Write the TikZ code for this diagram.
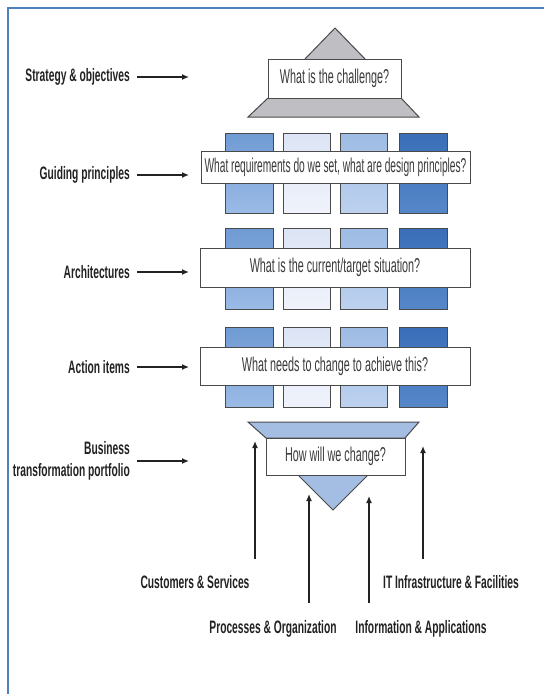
\documentclass[tikz,border=0pt]{standalone}
\usepackage{fontspec}
\newfontfamily\condfont[FakeStretch=0.57]{Liberation Sans}
\newfontfamily\boxfont[FakeStretch=0.54]{Liberation Sans}
\newfontfamily\boxfontnarrow[FakeStretch=0.51]{Liberation Sans}
\usetikzlibrary{arrows.meta}
\definecolor{frameblue}{HTML}{4F81BD}
\definecolor{edgegray}{HTML}{4A4A4A}
\definecolor{capgray}{HTML}{BEBEC3}
\definecolor{funnelblue}{HTML}{A3BDE3}
\definecolor{txtdark}{HTML}{222222}
\definecolor{txtbox}{HTML}{3A3A3A}
\definecolor{aT}{HTML}{6F9AD3}\definecolor{aB}{HTML}{9BBBE6}
\definecolor{bT}{HTML}{DCE4F5}\definecolor{bB}{HTML}{F0F3FB}
\definecolor{cT}{HTML}{9DBBE4}\definecolor{cB}{HTML}{BED2EF}
\definecolor{dT}{HTML}{3A6EB8}\definecolor{dB}{HTML}{5587C9}
\tikzset{
  lbl/.style={font=\condfont\bfseries\fontsize{18}{22}\selectfont, text=txtdark, inner sep=0pt, align=right},
  blbl/.style={font=\condfont\bfseries\fontsize{18}{22}\selectfont, text=txtdark, inner sep=0pt},
  qbox/.style={draw=edgegray, line width=1pt, fill=white, font=\boxfont\fontsize{20}{22}\selectfont, text=txtbox, inner sep=0pt},
  shape edge/.style={draw=edgegray, line width=1pt},
  colA/.style={shape edge, top color=aT, bottom color=aB},
  colB/.style={shape edge, top color=bT, bottom color=bB},
  colC/.style={shape edge, top color=cT, bottom color=cB},
  colD/.style={shape edge, top color=dT, bottom color=dB},
  arr/.style={draw=txtdark, line width=1.3pt, -{Latex[length=7pt,width=6pt]}},
}
\begin{document}
\begin{tikzpicture}[x=1pt,y=-1pt]
\useasboundingbox (0,0) rectangle (544,694);
\fill[white] (0,0) rectangle (544,694);
% frame
\draw[frameblue, line width=2pt] (8,694) -- (8,8) -- (544,8);

% top cap
\filldraw[shape edge, fill=capgray] (335,28) -- (304,60) -- (366,60) -- cycle;
\filldraw[shape edge, fill=capgray] (268,98) -- (401,98) -- (419,117) -- (248,117) -- cycle;
\node[qbox, minimum width=133pt, minimum height=39pt] (challenge) at (334.5,78.5) {What is the challenge?};

% blocks
\foreach \yt/\yb in {133/213, 228/309, 327/407}{
  \draw[colA] (225,\yt) rectangle (273,\yb);
  \draw[colB] (283,\yt) rectangle (330,\yb);
  \draw[colC] (340,\yt) rectangle (387,\yb);
  \draw[colD] (399,\yt) rectangle (447,\yb);
}
\node[qbox, minimum width=269pt, minimum height=32pt, font=\boxfontnarrow\fontsize{20}{22}\selectfont] (guiding) at (335.5,167) {What requirements do we set, what are design principles?};
\node[qbox, minimum width=270pt, minimum height=39pt] (arch) at (335,267.5) {What is the current/target situation?};
\node[qbox, minimum width=270pt, minimum height=38pt] (action) at (335,366) {What needs to change to achieve this?};

% funnel
\filldraw[shape edge, fill=funnelblue] (248,422) -- (419,422) -- (405,438) -- (266,438) -- cycle;
\filldraw[shape edge, fill=funnelblue] (298,475) -- (368,475) -- (333,510) -- cycle;
\node[qbox, minimum width=139pt, minimum height=37pt] (how) at (335.5,456.5) {How will we change?};

% left labels
\node[lbl, anchor=east] (strat) at (130,77) {Strategy \& objectives};
\node[lbl, anchor=east] (guide) at (130,175) {Guiding principles};
\node[lbl, anchor=east] (archl) at (130,272) {Architectures};
\node[lbl, anchor=east] (acti) at (130,367) {Action items};
\node[lbl, anchor=east] (btp) at (130,461) {Business\\transformation portfolio};
\foreach \n/\y in {strat/77, guide/175, archl/272, acti/367, btp/461}{
  \coordinate (\n-s) at (137,\y);
  \coordinate (\n-e) at (189,\y);
  \draw[arr] (\n-s) -- (\n-e);
}

% bottom labels
\node[blbl] (cust) at (195,582) {Customers \& Services};
\node[blbl] (itinf) at (451,582) {IT Infrastructure \& Facilities};
\node[blbl] (proc) at (273,629) {Processes \& Organization};
\node[blbl] (info) at (421,629) {Information \& Applications};

\coordinate (c1s) at (255,559); \coordinate (c1e) at (255,441);
\coordinate (c2s) at (309,603); \coordinate (c2e) at (309,494);
\coordinate (c3s) at (369,603); \coordinate (c3e) at (369,496);
\coordinate (c4s) at (423,559); \coordinate (c4e) at (423,446);
\draw[arr] (c1s) -- (c1e);
\draw[arr] (c2s) -- (c2e);
\draw[arr] (c3s) -- (c3e);
\draw[arr] (c4s) -- (c4e);
\end{tikzpicture}
\end{document}
